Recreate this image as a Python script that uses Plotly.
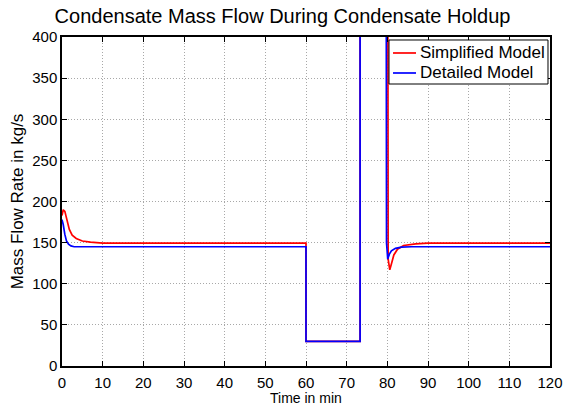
import plotly.graph_objects as go

# Simplified model (red)
t_simplified = [0, 0.3, 0.7, 1.2, 1.8, 2.5, 3.5, 5, 7, 10, 60, 60, 73.3, 73.3, 79.8, 80.2, 80.6, 81.0, 81.6, 82.5, 84, 87, 90, 120]
m_simplified = [183, 190, 188, 178, 166, 159, 155, 152, 150.5, 149.5, 149.5, 30, 30, 2000, 2000, 130, 117, 124, 135, 142, 146.5, 148.5, 149.5, 149.5]

# Detailed model (blue)
t_detailed = [0, 0.3, 0.7, 1.1, 1.6, 2.2, 3, 60, 60, 73.3, 73.3, 79.4, 79.8, 80.1, 80.5, 81.0, 82, 83.5, 86, 120]
m_detailed = [178, 172, 160, 152, 148, 146, 145, 145, 30, 30, 2000, 2000, 150, 130, 136, 140, 143, 144.5, 145, 145]

x_ticks = list(range(0, 121, 10))
y_ticks = list(range(0, 401, 50))

series_names = ["Simplified Model", "Detailed Model"]
series_colors = ["#ff0000", "#0000ff"]

FONT = "Liberation Sans, Arial, sans-serif"

fig = go.Figure()
fig.add_trace(go.Scatter(x=t_simplified, y=m_simplified, mode="lines", name=series_names[0],
                         line=dict(color=series_colors[0], width=1.7), showlegend=False))
fig.add_trace(go.Scatter(x=t_detailed, y=m_detailed, mode="lines", name=series_names[1],
                         line=dict(color=series_colors[1], width=1.7), showlegend=False))

axis_common = dict(showline=True, linecolor="black", linewidth=1.5, mirror="ticks",
                   ticks="inside", ticklen=5, tickcolor="black", tickwidth=1,
                   showgrid=True, gridcolor="#a8a8a8", griddash="1px,2px", gridwidth=1,
                   zeroline=False, automargin=False,
                   tickfont=dict(size=15, color="black", family=FONT))

fig.update_xaxes(range=[0, 120], tickvals=x_ticks, ticktext=[str(v) for v in x_ticks],
                 ticklabelstandoff=2, **axis_common)
fig.update_yaxes(range=[0, 400], tickvals=y_ticks, ticktext=[str(v) for v in y_ticks],
                 title=dict(text="Mass Flow Rate in kg/s", font=dict(size=17, color="black", family=FONT), standoff=4),
                 **axis_common)

# x-axis title placed just below the tick labels (MATLAB layout)
fig.add_annotation(xref="paper", yref="paper", x=0.5, y=-0.0965, xanchor="center", yanchor="middle",
                   text="Time in min", showarrow=False, font=dict(size=14, color="black", family=FONT))

# Legend box (MATLAB style) drawn in plot-area paper coordinates
box_x0, box_x1, box_y0, box_y1 = 0.6701, 0.9959, 0.8571, 0.9909
fig.add_shape(type="rect", xref="paper", yref="paper", x0=box_x0, x1=box_x1, y0=box_y0, y1=box_y1,
              line=dict(color="black", width=1), fillcolor="white", layer="above")
row_y = [0.9514, 0.8906]
for name, color, ry in zip(series_names, series_colors, row_y):
    fig.add_shape(type="line", xref="paper", yref="paper", x0=0.6783, x1=0.7254, y0=ry, y1=ry,
                  line=dict(color=color, width=1.7), layer="above")
    fig.add_annotation(xref="paper", yref="paper", x=0.7295, y=ry, xanchor="left", yanchor="middle",
                       text=name, showarrow=False, font=dict(size=17, color="black", family=FONT))

fig.update_layout(
    width=565, height=405,
    margin=dict(l=62, r=15, t=37, b=39),
    paper_bgcolor="white", plot_bgcolor="white",
    title=dict(text="Condensate Mass Flow During Condensate Holdup", x=0.5, xanchor="center",
               y=0.96, yanchor="middle", font=dict(size=20, color="black", family=FONT)),
    showlegend=False,
)

fig.write_html("out.html")
